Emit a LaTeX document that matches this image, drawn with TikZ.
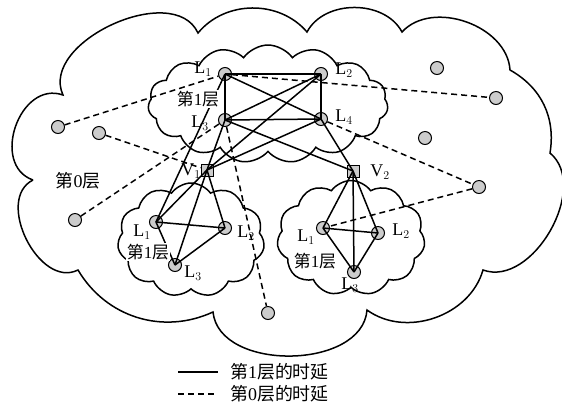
\documentclass[tikz,border=0pt]{standalone}
\usepackage{fontspec}
\setmainfont{Liberation Serif}
\newfontfamily\cjk{Noto Sans CJK SC}
\usetikzlibrary{shapes.symbols}
\pgfdeclarelayer{bg}
\pgfsetlayers{bg,main}
\tikzset{
  pt/.style={circle, draw, fill=gray!40, minimum size=13bp, inner sep=0pt, line width=1bp},
  sq/.style={rectangle, draw, fill=gray!40, minimum size=12bp, inner sep=0pt, line width=1bp},
  solidedge/.style={line width=1.5bp},
  dashedge/.style={line width=1.5bp, dash pattern=on 6bp off 4bp},
  cloudline/.style={line width=1.5bp},
  smallcloud/.style={cloud, draw, line width=1.5bp, cloud ignores aspect},
  lbl/.style={inner sep=0pt, font=\fontsize{18}{20}\selectfont},
  cj/.style={inner sep=1bp, fill=white, font=\fontsize{17}{20}\selectfont},
}
\begin{document}
\begin{tikzpicture}[x=1bp,y=1bp]
\useasboundingbox (0,0) rectangle (562,-409);
% nodes
\node[pt] (TL1) at (225,-74) {};
\node[pt] (TL2) at (321,-74) {};
\node[pt] (TL3) at (225,-120) {};
\node[pt] (TL4) at (321,-119) {};
\node[sq] (V1) at (207,-170) {};
\node[sq] (V2) at (353,-171) {};
\node[pt] (AL1) at (156,-222) {};
\node[pt] (AL2) at (225,-228) {};
\node[pt] (AL3) at (175,-265) {};
\node[pt] (BL1) at (323,-228) {};
\node[pt] (BL2) at (378,-233) {};
\node[pt] (BL3) at (354,-272) {};
\node[pt] (P1) at (58,-127) {};
\node[pt] (P2) at (99,-133) {};
\node[pt] (P3) at (437,-68) {};
\node[pt] (P4) at (496,-98) {};
\node[pt] (P5) at (425,-138) {};
\node[pt] (P6) at (479,-187) {};
\node[pt] (P7) at (75,-220) {};
\node[pt] (P8) at (268,-313) {};
\begin{pgfonlayer}{bg}
% big cloud
\draw[cloudline] (33,-180) to[bend left=90,looseness=1.3] (63,-95)
  to[bend left=90] (198,-33) to[bend left=50] (307,-32)
  to[bend left=62] (402,-32) to[bend left=67] (510,-70)
  to[bend left=35] (550,-153) to[bend left=80] (483,-270)
  to[bend left=55] (367,-310) to[bend left=85] (213,-312)
  to[bend left=42] (78,-270) to[bend left=90,looseness=1.1] (33,-180);
% small clouds
\node[smallcloud, cloud puffs=15, cloud puff arc=110, minimum width=240bp, minimum height=118bp] (C0) at (268,-104) {};
\node[smallcloud, cloud puffs=11, cloud puff arc=110, minimum width=147bp, minimum height=114bp] (CA) at (191,-240) {};
\node[smallcloud, cloud puffs=11, cloud puff arc=110, minimum width=148bp, minimum height=115bp] (CB) at (351,-238) {};
% dashed
\draw[dashedge] (P1) -- (TL1);
\draw[dashedge] (P2) -- (V1);
\draw[dashedge] (P7) -- (TL3);
\draw[dashedge] (TL3) -- (P8);
\draw[dashedge] (TL1) -- (P4);
\draw[dashedge] (TL4) -- (P6);
\draw[dashedge] (P6) -- (BL1);
\end{pgfonlayer}
% solid edges
\foreach \a/\b in {TL1/TL2,TL1/TL3,TL2/TL4,TL3/TL4,TL1/TL4,TL2/TL3,TL1/AL1,
  V1/TL3,V1/TL2,V1/TL4,V2/TL3,V2/TL4,
  V1/AL1,V1/AL2,V1/AL3,AL1/AL2,AL2/AL3,AL1/AL3,
  V2/BL1,V2/BL2,V2/BL3,BL1/BL2,BL1/BL3,BL2/BL3}
  \draw[solidedge] (\a.center) -- (\b.center);
% labels
\node[lbl] (lt1) at (203,-69) {L$_1$};
\node[lbl] (lt2) at (344,-70) {L$_2$};
\node[lbl] (lt3) at (200,-123) {L$_3$};
\node[lbl] (lt4) at (344,-117) {L$_4$};
\node[cj] (ct) at (198,-99) {{\cjk 第}1{\cjk 层}};
\node[lbl] (lv1) at (191,-171) {V$_1$};
\node[lbl] (lv2) at (380,-172) {V$_2$};
\node[lbl] (la1) at (142,-232) {L$_1$};
\node[lbl] (la2) at (246,-233) {L$_2$};
\node[lbl] (la3) at (193,-273) {L$_3$};
\node[cj] (ca) at (148,-252) {{\cjk 第}1{\cjk 层}};
\node[lbl] (lb1) at (306,-237) {L$_1$};
\node[lbl] (lb2) at (401,-231) {L$_2$};
\node[lbl] (lb3) at (350,-285) {L$_3$};
\node[cj] (cb) at (315,-261) {{\cjk 第}1{\cjk 层}};
\node[lbl] (c0) at (78,-181) {{\cjk 第}0{\cjk 层}};
% legend
\coordinate (g1a) at (178,-372);
\coordinate (g1b) at (218,-372);
\coordinate (g2a) at (178,-394);
\coordinate (g2b) at (218,-394);
\draw[solidedge] (g1a) -- (g1b);
\draw[dashedge] (g2a) -- (g2b);
\node[lbl, anchor=west] (t1) at (230,-372) {{\cjk 第}1{\cjk 层的时延}};
\node[lbl, anchor=west] (t2) at (230,-394) {{\cjk 第}0{\cjk 层的时延}};
\end{tikzpicture}
\end{document}
